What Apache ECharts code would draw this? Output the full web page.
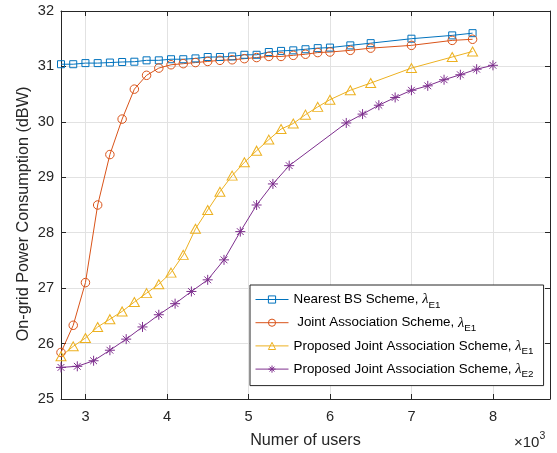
<!DOCTYPE html>
<html>
<head>
<meta charset="utf-8">
<script src="https://cdn.jsdelivr.net/npm/echarts@6/dist/echarts.min.js"></script>
<style>html,body{margin:0;padding:0;background:#fff}#c{width:557px;height:453px}</style>
</head>
<body>
<div id="c"></div>
<script>
// ---- data (x in units of 10^3 users) ----
const xA = [2.7, 2.85, 3.0, 3.15, 3.3, 3.45, 3.6, 3.75, 3.9, 4.05, 4.2, 4.35, 4.5, 4.65, 4.8, 4.95, 5.1, 5.25, 5.4, 5.55, 5.7, 5.85, 6.0, 6.25, 6.5, 7.0, 7.5, 7.75];
const nearestBS = [31.04, 31.04, 31.06, 31.06, 31.07, 31.08, 31.085, 31.11, 31.11, 31.13, 31.13, 31.145, 31.17, 31.17, 31.18, 31.21, 31.21, 31.26, 31.28, 31.29, 31.31, 31.33, 31.34, 31.38, 31.42, 31.5, 31.56, 31.6];
const jointAssoc = [25.84, 26.33, 27.10, 28.50, 29.41, 30.05, 30.59, 30.84, 30.97, 31.03, 31.05, 31.07, 31.09, 31.11, 31.12, 31.14, 31.16, 31.18, 31.18, 31.2, 31.22, 31.25, 31.26, 31.29, 31.33, 31.38, 31.47, 31.49];
const proposedE1 = [25.77, 25.95, 26.10, 26.30, 26.44, 26.58, 26.75, 26.91, 27.07, 27.28, 27.60, 28.07, 28.41, 28.74, 29.03, 29.27, 29.48, 29.68, 29.87, 29.97, 30.13, 30.27, 30.40, 30.57, 30.70, 30.97, 31.17, 31.27];
const xB = [2.7, 2.9, 3.1, 3.3, 3.5, 3.7, 3.9, 4.1, 4.3, 4.5, 4.7, 4.9, 5.1, 5.3, 5.5, 6.2, 6.4, 6.6, 6.8, 7.0, 7.2, 7.4, 7.6, 7.8, 8.0];
const proposedE2 = [25.57, 25.59, 25.69, 25.88, 26.08, 26.30, 26.52, 26.72, 26.94, 27.15, 27.51, 28.02, 28.50, 28.88, 29.21, 29.98, 30.14, 30.30, 30.44, 30.57, 30.65, 30.76, 30.85, 30.95, 31.02];
const xTicks = [3, 4, 5, 6, 7, 8];
const seriesNames = ['Nearest BS Scheme, λE1', ' Joint Association Scheme, λE1', 'Proposed Joint Association Scheme, λE1', 'Proposed Joint Association Scheme, λE2'];

const C = ['#0072BD', '#D95319', '#EDB120', '#7E2F8E'];
const FONT = 'Liberation Sans, Arial, sans-serif';
const AX = '#262626';
const STAR = 'path://M5 0L5 10M0 5L10 5M1.6 1.6L8.4 8.4M1.6 8.4L8.4 1.6';

function mk(name, xs, ys, color, symbol, size) {
  return {
    name: name, type: 'line', data: xs.map((x, i) => [x, ys[i]]),
    symbol: symbol, symbolSize: size, showSymbol: true,
    lineStyle: {color: color, width: 1},
    itemStyle: {color: 'rgba(255,255,255,0)', borderColor: color, borderWidth: 1},
    emphasis: {disabled: true}, animation: false, z: 3
  };
}

const chart = echarts.init(document.getElementById('c'), null, {renderer: 'canvas'});
const axisLine = {show: true, onZero: false, lineStyle: {color: AX, width: 1}};
const axisTick = {show: true, inside: true, length: 5, lineStyle: {color: AX}};
chart.setOption({
  animation: false,
  textStyle: {fontFamily: FONT},
  grid: {left: 61, right: 7, top: 11, bottom: 54, containLabel: false, outerBoundsMode: 'none'},
  xAxis: [{
    type: 'value', min: 2.7, max: 8.7, position: 'bottom',
    name: 'Numer of users', nameLocation: 'middle', nameGap: 34,
    nameTextStyle: {fontSize: 16.2, color: AX, fontFamily: FONT},
    axisLine: axisLine,
    axisTick: Object.assign({}, axisTick, {customValues: xTicks}),
    axisLabel: {customValues: xTicks, fontSize: 14.6, color: AX, margin: 10, fontFamily: FONT},
    splitLine: {show: true, lineStyle: {color: '#e2e2e2', width: 1}}
  }, {
    type: 'value', min: 2.7, max: 8.7, position: 'top',
    axisLine: axisLine,
    axisTick: Object.assign({}, axisTick, {customValues: xTicks}),
    axisLabel: {show: false}, splitLine: {show: false}
  }],
  yAxis: [{
    type: 'value', min: 25, max: 32, interval: 1, position: 'left',
    name: 'On-grid Power Consumption (dBW)', nameLocation: 'middle', nameGap: 29,
    nameMoveOverlap: false,
    nameTextStyle: {fontSize: 16.2, color: AX, fontFamily: FONT, padding: [0, 18, 0, 0]},
    axisLine: axisLine, axisTick: axisTick,
    axisLabel: {fontSize: 14.6, color: AX, margin: 7, fontFamily: FONT},
    splitLine: {show: true, lineStyle: {color: '#e2e2e2', width: 1}}
  }, {
    type: 'value', min: 25, max: 32, interval: 1, position: 'right',
    axisLine: axisLine, axisTick: axisTick,
    axisLabel: {show: false}, splitLine: {show: false}
  }],
  legend: {
    orient: 'vertical', left: 250, top: 285,
    backgroundColor: '#fff', borderColor: AX, borderWidth: 1, borderRadius: 0,
    padding: [4, 10, 6, 5], itemGap: 2.2, itemWidth: 33, itemHeight: 9,
    selectedMode: false,
    lineStyle: {width: 1},
    itemStyle: {borderWidth: 1},
    data: seriesNames,
    formatter: function (n) {
      const p = n.split('λ');
      return '{t|' + p[0] + '}{l|λ}{s|' + p[1] + '}';
    },
    textStyle: {
      color: '#000', fontFamily: FONT, fontSize: 13.4,
      rich: {
        t: {fontSize: 13.4, fontFamily: FONT, color: '#000', lineHeight: 16, verticalAlign: 'middle'},
        l: {fontSize: 14.5, fontFamily: 'Liberation Serif, serif', fontStyle: 'italic', color: '#000', lineHeight: 16, verticalAlign: 'middle'},
        s: {fontSize: 9.8, fontFamily: FONT, color: '#000', lineHeight: 16, padding: [11, 0, 0, 0], verticalAlign: 'middle'}
      }
    }
  },
  graphic: [{
    type: 'text', left: 514, top: 431,
    style: {
      text: '{a|×10}{b|3}',
      rich: {
        a: {fontSize: 15, fontFamily: FONT, fill: AX, padding: [7, 0, 0, 0]},
        b: {fontSize: 10.5, fontFamily: FONT, fill: AX, padding: [0, 0, 6, 0]}
      }
    }
  }],
  series: [
    mk(seriesNames[0], xA, nearestBS, C[0], 'rect', 7),
    mk(seriesNames[1], xA, jointAssoc, C[1], 'circle', 8.5),
    mk(seriesNames[2], xA, proposedE1, C[2], 'triangle', [10, 9]),
    mk(seriesNames[3], xB, proposedE2, C[3], STAR, 10)
  ]
});
</script>
</body>
</html>
